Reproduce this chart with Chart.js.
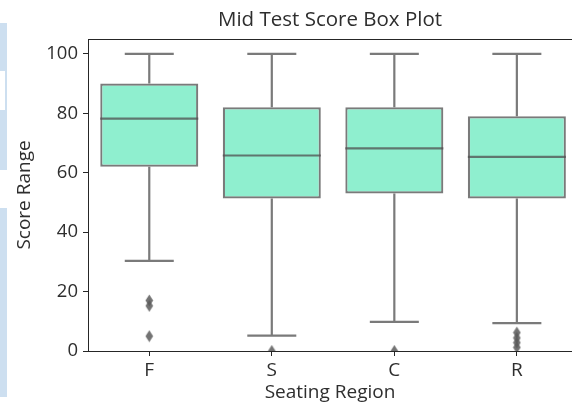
<!DOCTYPE html>
<html>
<head>
<meta charset="utf-8">
<script src="https://cdn.jsdelivr.net/npm/chart.js@4.4.1/dist/chart.umd.min.js"></script>
<style>
  html, body { margin: 0; padding: 0; background: #fff; overflow: hidden; }
  #wrap { position: relative; width: 572px; height: 405px; background: #fff; }
  canvas { position: absolute; left: 0; top: 0; }
  .side { position: absolute; left: 0; width: 7px; background: #cddff0; }
  .side.inset { background: #fff; width: 5px; }
  .side.gap { background: #fff; width: 7px; }
</style>
</head>
<body>
<div id="wrap">
  <canvas id="chart" width="572" height="405"></canvas>
  <div class="side" style="top:23px;height:374px;"></div>
  <div class="side inset" style="top:71px;height:39px;"></div>
  <div class="side gap" style="top:170px;height:38px;"></div>
</div>
<script>
// Seating regions and five-number summaries of the mid test scores
const categories   = ['F', 'S', 'C', 'R'];
const whiskerLow   = [30.3, 5.2, 9.8, 9.4];
const quartile1    = [62, 51.3, 53, 51.3];
const medians      = [78.2, 65.8, 68.2, 65.3];
const quartile3    = [90, 82, 82, 79];
const whiskerHigh  = [100, 100, 100, 100];
const outliers     = [[17, 15.2, 5], [0], [0], [6.2, 4.4, 2.8, 1.2]];
const yTicks       = [0, 20, 40, 60, 80, 100];

const boxFill   = '#8fefcf';
const lineColor = 'rgba(80, 80, 80, 0.76)';
const axisColor = '#262626';
const textColor = '#2e2e2e';

Chart.defaults.font.family = "'Open Sans', 'Noto Sans', sans-serif";
Chart.defaults.color = textColor;

// thin diamond marker for the fliers
function diamondMarker() {
  const c = document.createElement('canvas');
  c.width = 9; c.height = 13;
  const g = c.getContext('2d');
  g.fillStyle = 'rgba(90, 90, 90, 0.85)';
  g.beginPath();
  g.moveTo(4.5, 0.5); g.lineTo(8.3, 6.5); g.lineTo(4.5, 12.5); g.lineTo(0.7, 6.5);
  g.closePath(); g.fill();
  return c;
}

const boxData = categories.map((c, i) => ({ x: i, y: [quartile1[i], quartile3[i]] }));
const flierPoints = [];
outliers.forEach((vals, i) => vals.forEach(v => flierPoints.push({ x: i, y: v })));

// whiskers + caps under the boxes, medians above them, top spine of the frame
const boxParts = {
  id: 'boxParts',
  beforeDatasetsDraw(chart) {
    const ctx = chart.ctx, y = chart.scales.y;
    const meta = chart.getDatasetMeta(0);
    ctx.save();
    ctx.strokeStyle = lineColor;
    ctx.lineWidth = 2.2;
    meta.data.forEach((bar, i) => {
      const cx = bar.x, half = bar.width / 4;
      const yLo = y.getPixelForValue(whiskerLow[i]);
      const yQ1 = y.getPixelForValue(quartile1[i]);
      const yQ3 = y.getPixelForValue(quartile3[i]);
      const yHi = y.getPixelForValue(whiskerHigh[i]);
      ctx.beginPath();
      ctx.moveTo(cx, yQ1); ctx.lineTo(cx, yLo);
      ctx.moveTo(cx, yQ3); ctx.lineTo(cx, yHi);
      ctx.moveTo(cx - half, yLo); ctx.lineTo(cx + half, yLo);
      ctx.moveTo(cx - half, yHi); ctx.lineTo(cx + half, yHi);
      ctx.stroke();
    });
    ctx.restore();
  },
  afterDatasetsDraw(chart) {
    const ctx = chart.ctx, y = chart.scales.y, area = chart.chartArea;
    const meta = chart.getDatasetMeta(0);
    ctx.save();
    ctx.strokeStyle = lineColor;
    ctx.lineWidth = 2.2;
    meta.data.forEach((bar, i) => {
      const ym = y.getPixelForValue(medians[i]);
      ctx.beginPath();
      ctx.moveTo(bar.x - bar.width / 2, ym);
      ctx.lineTo(bar.x + bar.width / 2, ym);
      ctx.stroke();
    });
    ctx.strokeStyle = axisColor;
    ctx.lineWidth = 1;
    ctx.beginPath();
    ctx.moveTo(area.left, Math.round(area.top) + 0.5);
    ctx.lineTo(chart.width, Math.round(area.top) + 0.5);
    ctx.stroke();
    ctx.restore();
  }
};

new Chart(document.getElementById('chart'), {
  data: {
    datasets: [
      {
        type: 'bar',
        data: boxData,
        backgroundColor: boxFill,
        borderColor: lineColor,
        borderWidth: 2.2,
        borderSkipped: false,
        barPercentage: 0.8,
        categoryPercentage: 1.0,
        order: 2
      },
      {
        type: 'scatter',
        data: flierPoints,
        pointStyle: diamondMarker(),
        pointRadius: 5,
        clip: 0,
        order: 1
      }
    ]
  },
  options: {
    responsive: false,
    animation: false,
    events: [],
    layout: { padding: 0, autoPadding: false },
    plugins: {
      legend: { display: false },
      tooltip: { enabled: false },
      title: {
        display: true,
        text: 'Mid Test Score Box Plot',
        fullSize: false,
        color: textColor,
        font: { size: 20.5, weight: 'normal' },
        padding: { top: 7.5, bottom: 6.9 }
      }
    },
    scales: {
      x: {
        type: 'linear',
        // the frame runs a few pixels past the right edge of the page
        min: -0.5,
        max: 3.45,
        offset: false,
        grid: { display: true, drawOnChartArea: false, drawTicks: true, tickLength: 5, offset: false, color: axisColor },
        border: { display: true, color: axisColor, width: 1 },
        afterBuildTicks(scale) { scale.ticks = categories.map((c, i) => ({ value: i })); },
        ticks: {
          color: textColor, font: { size: 19 }, padding: 3, maxRotation: 0,
          callback: (v) => categories[v]
        },
        title: { display: true, text: 'Seating Region', color: textColor, font: { size: 19 }, padding: { top: 1.5, bottom: 1.5 } },
        afterFit(scale) {
          scale.height = 54;
          scale.paddingLeft = 0;
          scale.paddingRight = 0;
        }
      },
      y: {
        type: 'linear',
        min: 0,
        max: 105,
        grid: { display: true, drawOnChartArea: false, drawTicks: true, tickLength: 5, color: axisColor },
        border: { display: true, color: axisColor, width: 1 },
        ticks: { color: textColor, font: { size: 18.5 }, padding: 5 },
        afterBuildTicks(scale) { scale.ticks = yTicks.map(v => ({ value: v })); },
        title: { display: true, text: 'Score Range', color: textColor, font: { size: 19 }, padding: { top: 13.5, bottom: 3 } },
        afterFit(scale) { scale.width = 88; }
      }
    }
  },
  plugins: [boxParts]
});
</script>
</body>
</html>
